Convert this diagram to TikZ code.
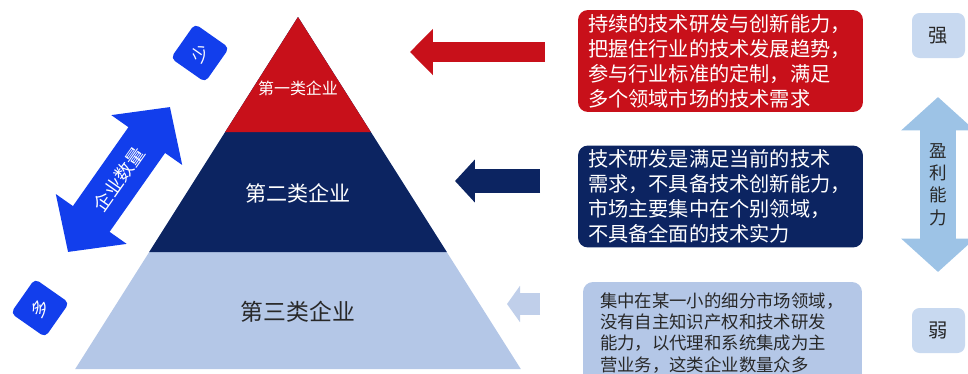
\documentclass[tikz,border=0pt]{standalone}
\usepackage{fontspec}
\setmainfont{Noto Sans CJK SC}
\usetikzlibrary{arrows.meta}
\definecolor{tierred}{RGB}{200,16,26}
\definecolor{tiernavy}{RGB}{12,36,97}
\definecolor{tierlight}{RGB}{180,199,231}
\definecolor{countblue}{RGB}{18,62,236}
\definecolor{profitblue}{RGB}{157,195,230}
\definecolor{levelblue}{RGB}{200,217,240}
\definecolor{pointlight}{RGB}{192,207,234}
\definecolor{darktext}{RGB}{40,40,40}

\begin{document}
\begin{tikzpicture}[x=0.02cm, y=-0.02cm,
  descbox/.style={rounded corners=0.2cm, minimum width=5.7cm, minimum height=2.04cm,
    text width=5.3cm, align=left, inner sep=0pt, font=\fontsize{11.5}{14.2}\selectfont},
  countbox/.style={fill=countblue, rounded corners=0.1cm, minimum size=0.84cm,
    rotate=55, text=white, font=\fontsize{10}{12}\selectfont},
  levelbox/.style={fill=levelblue, rounded corners=0.15cm, minimum width=1.06cm,
    minimum height=0.9cm, text=darktext, font=\fontsize{11}{13}\selectfont}]
\clip (0,0) rectangle (968,373);

% Pyramid
\fill[tierlight] (298,17) -- (75.2,369) -- (520.8,369) -- cycle;
\fill[tiernavy] (298,17) -- (149.2,252) -- (446.8,252) -- cycle;
\fill[tierred] (298,17) -- (225.2,132) -- (370.8,132) -- cycle;
\node[text=white, font=\fontsize{9.1}{11}\selectfont] (tierone) at (298,88) {第一类企业};
\node[text=white, font=\fontsize{12}{14}\selectfont] (tiertwo) at (298,193) {第二类企业};
\node[text=darktext, font=\fontsize{13}{15}\selectfont] (tierthree) at (298,312) {第三类企业};

% Number of firms
\node[countbox] (few) at (200,53) {少};
\node[countbox] (many) at (40,308) {多};
\coordinate (manytip) at (68,252);
\coordinate (fewtip) at (170,107);
\draw[countblue, line width=25.5pt,
  {Triangle[length=23pt,width=48pt]}-{Triangle[length=23pt,width=48pt]}]
  (manytip) -- node[sloped, text=white, font=\fontsize{10.5}{12}\selectfont] (countlabel) {企业数量} (fewtip);

% Description boxes
\node[descbox, fill=tierred, text=white] (redbox) at (720.5,61)
  {持续的技术研发与创新能力，\\把握住行业的技术发展趋势，\\参与行业标准的定制，满足\\多个领域市场的技术需求};
\node[descbox, fill=tiernavy, text=white] (navybox) at (720.5,196.5)
  {技术研发是满足当前的技术\\需求，不具备技术创新能力，\\市场主要集中在个别领域，\\不具备全面的技术实力};
\node[descbox, fill=tierlight, text=darktext, minimum width=5.58cm, text width=4.9cm,
  font=\fontsize{9.9}{12}\selectfont] (lightbox) at (722.5,333)
  {集中在某一小的细分市场领域，\\没有自主知识产权和技术研发\\能力，以代理和系统集成为主\\营业务，这类企业数量众多};

% Pointers to the tiers
\coordinate (redtail) at (545,52);
\coordinate (redtip) at (410,52);
\coordinate (navytail) at (540,181);
\coordinate (navytip) at (455,181);
\coordinate (lighttail) at (540,304);
\coordinate (lighttip) at (507,304);
\draw[tierred, line width=11.9pt, -{Triangle[length=13pt,width=25.5pt]}] (redtail) -- (redtip);
\draw[tiernavy, line width=13.6pt, -{Triangle[length=11.3pt,width=23.8pt]}] (navytail) -- (navytip);
\draw[pointlight, line width=12.5pt, -{Triangle[length=7.4pt,width=20.4pt]}] (lighttail) -- (lighttip);

% Profitability
\node[levelbox] (strong) at (938.5,35.5) {强};
\node[levelbox] (weak) at (938.5,330.5) {弱};
\coordinate (strongtip) at (938,97);
\coordinate (weaktip) at (938,272);
\draw[profitblue, line width=21pt,
  {Triangle[length=19pt,width=40.8pt]}-{Triangle[length=19pt,width=40.8pt]}]
  (strongtip) -- node[text=darktext, align=center, font=\fontsize{10}{12.7}\selectfont] (profitlabel) {盈\\利\\能\\力} (weaktip);
\end{tikzpicture}
\end{document}
